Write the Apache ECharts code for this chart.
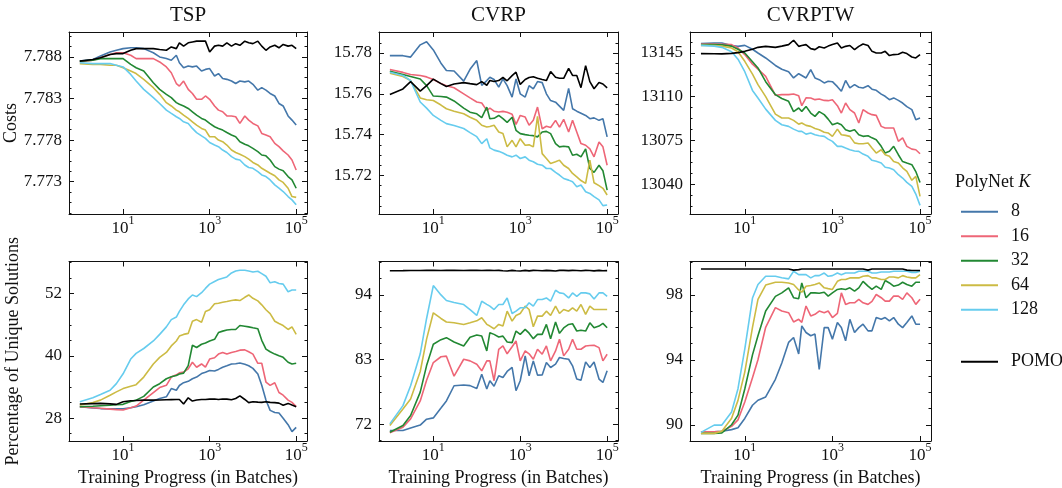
<!DOCTYPE html>
<html>
<head>
<meta charset="utf-8">
<script src="https://cdn.jsdelivr.net/npm/echarts@6/dist/echarts.min.js"></script>
<style>
  html, body { margin: 0; padding: 0; background: #fff; }
  #chart { width: 1062px; height: 488px; }
</style>
</head>
<body>
<div id="chart"></div>
<script>
// training checkpoints (batches), shared by every panel
const batches = [1, 2, 3, 5, 7, 10, 15, 20, 30, 50, 70, 100, 130, 170, 200, 250, 320, 400, 500, 650, 800,
  1000, 1300, 1600, 2000, 2500, 3200, 4000, 5000, 6500, 8000, 10000, 13000, 16000, 20000, 25000, 32000,
  40000, 50000, 65000, 80000, 100000];
const polyNetK = ['8', '16', '32', '64', '128'];
const baselineName = 'POMO';
const xTickExps = [1, 3, 5];

// tick labels
const tspCostTicks = [7.773, 7.778, 7.783, 7.788];
const cvrpCostTicks = [15.72, 15.74, 15.76, 15.78];
const cvrptwCostTicks = [13040, 13075, 13110, 13145];
const tspUniqTicks = [28, 40, 52];
const cvrpUniqTicks = [72, 83, 94];
const cvrptwUniqTicks = [90, 94, 98];

// TSP costs
const tspCost8 = [7.7875, 7.7877, 7.7881, 7.7886, 7.7888, 7.7890, 7.7891, 7.7891, 7.7890, 7.7885, 7.7880, 7.7878, 7.7876, 7.7882, 7.7873, 7.7867, 7.7869, 7.7868, 7.7869, 7.7863, 7.7865, 7.7866, 7.7857, 7.7860, 7.7854, 7.7853, 7.7851, 7.7848, 7.7851, 7.7850, 7.7851, 7.7847, 7.7840, 7.7843, 7.7840, 7.7836, 7.7833, 7.7824, 7.7821, 7.7809, 7.7804, 7.7798];
const tspCost16 = [7.7874, 7.7876, 7.7879, 7.7883, 7.7885, 7.7885, 7.7882, 7.7878, 7.7878, 7.7878, 7.7874, 7.7868, 7.7861, 7.7848, 7.7845, 7.7851, 7.7841, 7.7836, 7.7829, 7.7829, 7.7833, 7.7829, 7.7821, 7.7816, 7.7814, 7.7809, 7.7809, 7.7808, 7.7800, 7.7809, 7.7804, 7.7800, 7.7797, 7.7788, 7.7786, 7.7784, 7.7776, 7.7772, 7.7767, 7.7762, 7.7756, 7.7744];
const tspCost32 = [7.7875, 7.7876, 7.7878, 7.7878, 7.7878, 7.7878, 7.7871, 7.7867, 7.7863, 7.7849, 7.7841, 7.7835, 7.7831, 7.7825, 7.7823, 7.7821, 7.7818, 7.7814, 7.7810, 7.7806, 7.7804, 7.7800, 7.7796, 7.7794, 7.7792, 7.7789, 7.7786, 7.7784, 7.7778, 7.7775, 7.7773, 7.7770, 7.7766, 7.7762, 7.7761, 7.7756, 7.7748, 7.7745, 7.7743, 7.7736, 7.7732, 7.7722];
const tspCost64 = [7.7872, 7.7871, 7.7871, 7.7870, 7.7870, 7.7867, 7.7863, 7.7860, 7.7853, 7.7843, 7.7835, 7.7825, 7.7821, 7.7816, 7.7814, 7.7810, 7.7806, 7.7802, 7.7798, 7.7794, 7.7792, 7.7784, 7.7784, 7.7780, 7.7778, 7.7774, 7.7768, 7.7765, 7.7763, 7.7760, 7.7757, 7.7753, 7.7750, 7.7746, 7.7743, 7.7740, 7.7737, 7.7732, 7.7729, 7.7722, 7.7712, 7.7711];
const tspCost128 = [7.7873, 7.7872, 7.7872, 7.7872, 7.7870, 7.7868, 7.7859, 7.7851, 7.7841, 7.7831, 7.7824, 7.7816, 7.7812, 7.7808, 7.7806, 7.7802, 7.7800, 7.7794, 7.7789, 7.7785, 7.7782, 7.7777, 7.7774, 7.7772, 7.7768, 7.7765, 7.7760, 7.7757, 7.7756, 7.7750, 7.7747, 7.7746, 7.7742, 7.7738, 7.7736, 7.7732, 7.7726, 7.7722, 7.7718, 7.7712, 7.7708, 7.7702];
const tspCostPomo = [7.7875, 7.7877, 7.7879, 7.7883, 7.7884, 7.7884, 7.7888, 7.7890, 7.7890, 7.7890, 7.7889, 7.7888, 7.7892, 7.7890, 7.7897, 7.7893, 7.7897, 7.7898, 7.7899, 7.7899, 7.7899, 7.7886, 7.7893, 7.7894, 7.7893, 7.7897, 7.7893, 7.7896, 7.7894, 7.7899, 7.7897, 7.7896, 7.7899, 7.7893, 7.7888, 7.7892, 7.7894, 7.7891, 7.7895, 7.7893, 7.7894, 7.7890];

// CVRP costs
const cvrpCost8 = [15.7787, 15.7787, 15.7780, 15.7840, 15.7855, 15.7815, 15.7750, 15.7714, 15.7712, 15.7662, 15.7720, 15.7763, 15.7641, 15.7665, 15.7681, 15.7670, 15.7633, 15.7673, 15.7640, 15.7584, 15.7673, 15.7600, 15.7584, 15.7640, 15.7624, 15.7660, 15.7655, 15.7600, 15.7567, 15.7559, 15.7540, 15.7519, 15.7627, 15.7527, 15.7515, 15.7505, 15.7494, 15.7478, 15.7482, 15.7470, 15.7478, 15.7389];
const cvrpCost16 = [15.7719, 15.7705, 15.7695, 15.7690, 15.7683, 15.7670, 15.7650, 15.7640, 15.7630, 15.7600, 15.7580, 15.7560, 15.7555, 15.7519, 15.7530, 15.7515, 15.7511, 15.7514, 15.7510, 15.7500, 15.7450, 15.7494, 15.7486, 15.7446, 15.7470, 15.7535, 15.7429, 15.7441, 15.7435, 15.7470, 15.7437, 15.7475, 15.7413, 15.7470, 15.7413, 15.7356, 15.7348, 15.7330, 15.7291, 15.7364, 15.7340, 15.7250];
const cvrpCost32 = [15.7711, 15.7695, 15.7685, 15.7673, 15.7640, 15.7589, 15.7587, 15.7584, 15.7565, 15.7530, 15.7510, 15.7502, 15.7483, 15.7535, 15.7478, 15.7480, 15.7494, 15.7478, 15.7460, 15.7485, 15.7421, 15.7405, 15.7400, 15.7397, 15.7395, 15.7389, 15.7413, 15.7416, 15.7405, 15.7356, 15.7340, 15.7343, 15.7340, 15.7299, 15.7304, 15.7291, 15.7330, 15.7234, 15.7215, 15.7250, 15.7223, 15.7128];
const cvrpCost64 = [15.7701, 15.7685, 15.7665, 15.7580, 15.7571, 15.7567, 15.7545, 15.7527, 15.7515, 15.7502, 15.7485, 15.7470, 15.7446, 15.7437, 15.7440, 15.7446, 15.7413, 15.7405, 15.7340, 15.7372, 15.7340, 15.7380, 15.7348, 15.7350, 15.7340, 15.7489, 15.7307, 15.7283, 15.7259, 15.7267, 15.7275, 15.7250, 15.7234, 15.7210, 15.7193, 15.7175, 15.7161, 15.7275, 15.7164, 15.7150, 15.7137, 15.7104];
const cvrpCost128 = [15.7706, 15.7690, 15.7665, 15.7560, 15.7530, 15.7494, 15.7470, 15.7454, 15.7445, 15.7430, 15.7410, 15.7390, 15.7356, 15.7380, 15.7335, 15.7324, 15.7318, 15.7310, 15.7299, 15.7291, 15.7299, 15.7283, 15.7291, 15.7275, 15.7267, 15.7255, 15.7250, 15.7234, 15.7234, 15.7215, 15.7202, 15.7185, 15.7177, 15.7169, 15.7145, 15.7153, 15.7120, 15.7112, 15.7096, 15.7080, 15.7052, 15.7055];
const cvrpCostPomo = [15.7597, 15.7624, 15.7660, 15.7613, 15.7640, 15.7672, 15.7650, 15.7636, 15.7648, 15.7655, 15.7650, 15.7645, 15.7660, 15.7642, 15.7665, 15.7660, 15.7665, 15.7680, 15.7664, 15.7689, 15.7706, 15.7646, 15.7670, 15.7680, 15.7684, 15.7676, 15.7670, 15.7665, 15.7709, 15.7681, 15.7676, 15.7676, 15.7725, 15.7690, 15.7690, 15.7630, 15.7738, 15.7660, 15.7625, 15.7655, 15.7648, 15.7629];

// CVRPTW costs
const cvrptwCost8 = [13152.5, 13153, 13153, 13151, 13150.3, 13151.1, 13148, 13145, 13141, 13135, 13132, 13130, 13125, 13128.4, 13127, 13125, 13131.6, 13125, 13123.6, 13121, 13122.3, 13122, 13118, 13114.3, 13123, 13117, 13119.6, 13117.5, 13117, 13118.8, 13116, 13115.1, 13112, 13110.3, 13107.6, 13109, 13107, 13104.9, 13102, 13099.6, 13091.6, 13092.9];
const cvrptwCost16 = [13152.2, 13152.2, 13152, 13151.7, 13149, 13143.7, 13136, 13132, 13126.3, 13111.1, 13111.6, 13111.6, 13112.1, 13110.8, 13102.8, 13109, 13108.9, 13107.6, 13108.1, 13107, 13106.8, 13107.6, 13102.8, 13096.9, 13104.9, 13099.6, 13096.9, 13088.9, 13099.6, 13096.9, 13095.6, 13095, 13086.2, 13084.9, 13084.9, 13084.9, 13074.2, 13076.9, 13070.2, 13068, 13067.5, 13064.3];
const cvrptwCost32 = [13151.7, 13151.7, 13151.5, 13150.5, 13148, 13145, 13138, 13133, 13122, 13111.6, 13108.5, 13106.3, 13098, 13100.9, 13098.2, 13102.2, 13096.9, 13094.2, 13098, 13095.6, 13092, 13087.5, 13088.9, 13087.5, 13083.5, 13082.2, 13083.5, 13079.5, 13078.2, 13078.7, 13077, 13075.5, 13070.2, 13064.8, 13066.2, 13070.2, 13063.5, 13058, 13056.8, 13055.5, 13050, 13041.3];
const cvrptwCost64 = [13151.1, 13151, 13150.5, 13149, 13146, 13138.3, 13128, 13119.6, 13110, 13096, 13092.9, 13092.9, 13091, 13088, 13088.9, 13087, 13086.2, 13084.5, 13083.5, 13081.5, 13080.9, 13078.2, 13084, 13079.5, 13079, 13078.2, 13073, 13072.3, 13072.3, 13072.9, 13068.8, 13064.8, 13067.5, 13063.5, 13062.2, 13058, 13056.8, 13053, 13050.1, 13043, 13046.1, 13030.1];
const cvrptwCost128 = [13151.1, 13150.5, 13149.5, 13146, 13140, 13130, 13115, 13108.9, 13100, 13091, 13087.5, 13086.2, 13084, 13082.2, 13082.2, 13080, 13080.9, 13079.5, 13078.7, 13078.2, 13076, 13074.2, 13070.2, 13070.2, 13068.8, 13067.5, 13066.5, 13066.2, 13064, 13062.2, 13059, 13058.2, 13056.8, 13053.5, 13052.8, 13051.5, 13047.5, 13044.8, 13041.3, 13038.1, 13032, 13022.9];
const cvrptwCostPomo = [13144.5, 13144.4, 13144.3, 13144.7, 13145.3, 13146.3, 13148, 13149.5, 13150.3, 13149.5, 13150.5, 13151.7, 13155.2, 13150.3, 13151, 13151.7, 13148.5, 13147.7, 13150, 13149, 13150.5, 13151.7, 13153, 13149, 13150.3, 13151, 13147.7, 13150.3, 13152.2, 13151, 13146.3, 13145, 13145, 13146.3, 13142.9, 13143.7, 13144, 13145.5, 13144.5, 13141.8, 13141, 13143.7];

// TSP unique solutions (%)
const tspUniq8 = [30.22, 29.95, 29.85, 29.80, 29.80, 29.80, 30.00, 30.22, 30.60, 31.30, 31.80, 32.12, 33.70, 33.38, 34.30, 34.84, 35.10, 35.60, 35.92, 36.60, 36.87, 37.18, 37.10, 37.40, 37.82, 38.10, 38.45, 38.50, 38.64, 38.40, 38.10, 37.60, 36.50, 34.33, 31.50, 29.50, 29.10, 29.00, 28.00, 26.74, 25.40, 26.23];
const tspUniq16 = [30.22, 30.00, 29.90, 29.75, 29.65, 29.58, 30.03, 30.34, 31.48, 32.94, 33.89, 34.33, 35.92, 36.36, 36.74, 36.87, 37.50, 38.77, 37.82, 38.45, 37.82, 39.40, 39.65, 40.35, 40.67, 40.35, 40.67, 40.86, 41.11, 41.17, 40.79, 40.35, 38.58, 38.58, 34.97, 34.33, 34.84, 32.94, 32.43, 31.48, 31.04, 30.22];
const tspUniq32 = [30.22, 30.30, 30.40, 30.50, 30.60, 30.66, 31.20, 31.48, 32.20, 34.00, 34.65, 35.60, 36.00, 36.23, 36.50, 36.68, 38.13, 42.06, 41.62, 42.25, 42.50, 42.88, 43.20, 44.50, 44.78, 45.00, 45.10, 45.10, 45.86, 45.73, 45.60, 45.42, 45.22, 43.00, 41.30, 40.80, 40.35, 40.03, 39.72, 38.77, 38.45, 38.58];
const tspUniq64 = [30.53, 31.00, 31.48, 32.43, 33.07, 33.70, 34.15, 34.46, 35.92, 38.45, 39.72, 40.67, 41.93, 42.88, 43.83, 44.15, 44.34, 46.68, 47.00, 46.49, 48.58, 48.90, 50.04, 50.16, 50.35, 50.48, 50.67, 50.80, 50.67, 51.30, 51.75, 51.11, 50.61, 49.85, 48.90, 48.14, 46.68, 46.24, 45.86, 45.10, 45.60, 44.15];
const tspUniq128 = [31.17, 31.93, 32.56, 33.38, 34.65, 36.55, 39.40, 40.48, 41.43, 42.88, 44.15, 45.60, 47.00, 47.50, 48.58, 49.85, 50.99, 51.75, 51.43, 52.19, 53.01, 53.84, 54.34, 54.72, 54.98, 55.23, 55.99, 56.37, 56.50, 56.50, 56.37, 56.18, 56.31, 55.86, 55.36, 54.09, 54.28, 53.96, 53.84, 52.38, 52.70, 52.70];
const tspUniqPomo = [30.72, 30.80, 30.85, 30.75, 30.66, 31.17, 31.36, 31.40, 31.48, 31.48, 31.50, 31.55, 31.58, 31.61, 31.61, 30.72, 31.93, 31.30, 31.50, 31.61, 31.61, 31.67, 31.70, 31.61, 31.70, 31.67, 31.55, 31.80, 32.31, 31.60, 31.00, 31.17, 31.10, 31.05, 31.17, 31.05, 31.00, 30.90, 30.50, 30.85, 30.53, 30.22];

// CVRP unique solutions (%)
const cvrpUniq8 = [70.99, 70.99, 71.40, 71.90, 72.90, 73.12, 74.80, 76.00, 78.58, 78.70, 78.60, 78.10, 80.55, 78.02, 79.43, 78.50, 80.27, 79.99, 81.00, 81.68, 77.74, 79.43, 83.65, 80.27, 82.80, 80.38, 80.40, 82.52, 81.68, 82.24, 83.37, 83.20, 83.08, 81.96, 79.71, 79.50, 82.63, 81.68, 82.60, 79.71, 79.14, 81.11];
const cvrpUniq16 = [70.59, 71.55, 72.95, 76.00, 79.50, 82.52, 83.50, 83.60, 80.20, 83.08, 82.80, 82.24, 81.11, 82.80, 82.80, 79.43, 84.77, 85.33, 84.00, 85.20, 86.18, 82.80, 84.49, 84.00, 83.08, 84.77, 83.93, 85.33, 82.80, 84.49, 86.46, 83.65, 84.77, 86.46, 84.77, 84.77, 85.33, 85.40, 85.45, 85.05, 82.80, 83.93];
const cvrpUniq32 = [70.70, 71.83, 73.52, 77.50, 82.00, 85.62, 86.40, 86.74, 86.00, 85.33, 86.80, 87.19, 87.02, 84.49, 87.59, 87.30, 86.85, 87.00, 86.00, 85.90, 87.87, 87.30, 88.15, 87.50, 86.57, 87.30, 87.30, 88.99, 86.57, 89.39, 87.47, 88.40, 88.99, 89.10, 87.87, 88.00, 87.87, 89.27, 88.43, 88.71, 89.16, 88.43];
const cvrpUniq64 = [71.83, 74.64, 76.33, 81.00, 86.50, 90.96, 90.00, 89.40, 89.27, 88.99, 89.27, 89.60, 90.12, 89.00, 88.71, 88.26, 88.99, 88.71, 91.24, 89.55, 90.51, 90.85, 92.09, 91.52, 88.60, 90.40, 90.40, 91.24, 90.51, 92.09, 90.85, 91.52, 91.24, 91.81, 91.24, 92.37, 90.68, 92.09, 91.52, 91.52, 91.52, 91.52];
const cvrpUniq128 = [72.11, 75.21, 78.58, 84.00, 90.00, 95.58, 94.00, 93.04, 92.70, 92.37, 91.50, 90.51, 92.93, 92.40, 92.09, 91.52, 92.37, 92.37, 93.49, 90.85, 91.24, 91.81, 91.81, 92.65, 92.09, 93.21, 93.21, 93.49, 92.93, 94.79, 94.34, 94.23, 93.49, 94.34, 93.77, 94.34, 94.34, 94.17, 93.32, 94.34, 94.34, 93.77];
const cvrpUniqPomo = [98.10, 98.12, 98.15, 98.15, 98.16, 98.16, 98.15, 98.16, 98.16, 98.15, 98.16, 98.16, 98.15, 98.16, 98.16, 98.15, 98.16, 98.10, 98.05, 98.16, 98.10, 98.05, 98.16, 98.08, 98.16, 98.14, 98.10, 98.16, 98.12, 98.05, 98.16, 98.16, 98.12, 98.16, 98.14, 98.10, 98.16, 98.14, 98.08, 98.16, 98.10, 98.12];

// CVRPTW unique solutions (%)
const cvrptwUniq8 = [89.57, 89.57, 89.60, 89.70, 89.82, 90.39, 91.20, 91.51, 91.71, 92.80, 93.80, 95.07, 95.37, 94.36, 96.09, 95.68, 95.48, 95.58, 93.40, 95.98, 95.98, 95.27, 96.29, 95.98, 95.17, 96.49, 95.68, 95.98, 96.19, 95.78, 95.78, 96.60, 96.49, 96.60, 96.39, 96.60, 96.19, 95.98, 96.29, 96.70, 96.19, 96.19];
const cvrptwUniq16 = [89.57, 89.57, 89.60, 89.90, 90.30, 91.40, 92.90, 94.00, 96.00, 97.21, 97.00, 96.90, 96.33, 96.49, 96.30, 97.31, 96.70, 96.80, 97.00, 96.90, 97.00, 96.60, 96.86, 98.12, 97.41, 97.51, 97.51, 97.72, 97.51, 97.41, 97.60, 98.02, 97.82, 97.61, 97.61, 97.92, 97.92, 97.72, 98.12, 97.82, 97.41, 97.72];
const cvrptwUniq32 = [89.47, 89.47, 89.50, 90.00, 90.59, 92.20, 94.30, 95.48, 97.00, 97.90, 98.12, 98.43, 97.82, 97.76, 98.73, 97.82, 98.12, 98.12, 98.10, 98.16, 97.92, 98.12, 98.33, 98.37, 98.33, 98.43, 98.22, 98.43, 98.83, 98.53, 98.33, 98.53, 98.33, 98.88, 98.73, 98.53, 98.60, 98.77, 98.63, 98.53, 98.77, 98.77];
const cvrptwUniq64 = [89.47, 89.47, 89.60, 90.40, 91.50, 93.24, 96.00, 97.72, 98.60, 98.77, 98.77, 98.73, 98.63, 98.30, 98.16, 98.53, 98.57, 98.63, 98.73, 98.43, 98.38, 98.33, 98.83, 98.94, 98.94, 99.04, 99.04, 99.04, 99.14, 99.18, 99.04, 99.04, 98.94, 98.94, 99.10, 99.10, 99.04, 99.18, 99.10, 99.04, 99.04, 99.24];
const cvrptwUniq128 = [89.53, 89.98, 89.98, 90.79, 92.22, 94.66, 97.80, 98.63, 99.14, 99.14, 99.05, 98.98, 99.45, 99.24, 99.24, 99.24, 99.04, 99.18, 99.18, 99.34, 99.14, 99.18, 99.34, 99.24, 99.34, 99.34, 99.34, 99.45, 99.45, 99.45, 99.34, 99.34, 99.40, 99.40, 99.40, 99.45, 99.45, 99.45, 99.45, 99.38, 99.38, 99.45];
const cvrptwUniqPomo = [99.59, 99.59, 99.59, 99.59, 99.59, 99.59, 99.59, 99.59, 99.59, 99.59, 99.59, 99.59, 99.52, 99.55, 99.59, 99.59, 99.59, 99.59, 99.59, 99.59, 99.59, 99.59, 99.59, 99.59, 99.59, 99.59, 99.59, 99.59, 99.59, 99.52, 99.59, 99.59, 99.59, 99.59, 99.59, 99.59, 99.59, 99.59, 99.52, 99.50, 99.50, 99.50];

const FONT = "'Liberation Serif', 'Times New Roman', serif";
const INK = '#111111';
const colors = ['#4477AA', '#EE6677', '#228833', '#CCBB44', '#66CCEE', '#000000'];
const seriesNames = polyNetK.concat([baselineName]);

const panels = [
  { box: { left: 69, top: 32, width: 238, height: 182 }, title: 'TSP', yName: 'Costs',
    yMin: 7.7691, yMax: 7.7910, ticks: tspCostTicks, dec: 3,
    lines: [tspCost8, tspCost16, tspCost32, tspCost64, tspCost128, tspCostPomo] },
  { box: { left: 379, top: 32, width: 239, height: 182 }, title: 'CVRP',
    yMin: 15.7011, yMax: 15.7903, ticks: cvrpCostTicks, dec: 2,
    lines: [cvrpCost8, cvrpCost16, cvrpCost32, cvrpCost64, cvrpCost128, cvrpCostPomo] },
  { box: { left: 690, top: 32, width: 241, height: 182 }, title: 'CVRPTW',
    yMin: 13016, yMax: 13161.8, ticks: cvrptwCostTicks, dec: 0,
    lines: [cvrptwCost8, cvrptwCost16, cvrptwCost32, cvrptwCost64, cvrptwCost128, cvrptwCostPomo] },
  { box: { left: 69, top: 261.5, width: 238, height: 181.5 }, yName: 'Percentage of Unique Solutions',
    yMin: 23.6, yMax: 58.2, ticks: tspUniqTicks, dec: 0, xName: true,
    lines: [tspUniq8, tspUniq16, tspUniq32, tspUniq64, tspUniq128, tspUniqPomo] },
  { box: { left: 379, top: 261.5, width: 239, height: 181.5 },
    yMin: 69.2, yMax: 99.67, ticks: cvrpUniqTicks, dec: 0, xName: true,
    lines: [cvrpUniq8, cvrpUniq16, cvrpUniq32, cvrpUniq64, cvrpUniq128, cvrpUniqPomo] },
  { box: { left: 690, top: 261.5, width: 241, height: 181.5 },
    yMin: 89.0, yMax: 100.05, ticks: cvrptwUniqTicks, dec: 0, xName: true,
    lines: [cvrptwUniq8, cvrptwUniq16, cvrptwUniq32, cvrptwUniq64, cvrptwUniq128, cvrptwUniqPomo] },
];

// minor ticks: 4 divisions between majors, like matplotlib's AutoMinorLocator
const minorTicks = (ticks, min, max) => {
  const step = (ticks[1] - ticks[0]) / 4;
  const out = [];
  const kMin = Math.ceil((min - ticks[0]) / step - 1e-9);
  const kMax = Math.floor((max - ticks[0]) / step + 1e-9);
  for (let k = kMin; k <= kMax; k++) {
    if (k % 4 !== 0) out.push(ticks[0] + k * step);
  }
  return out;
};

const lineStyle = { color: INK, width: 1 };
const grid = [], xAxis = [], yAxis = [], series = [], graphic = [];

panels.forEach((p, g) => {
  grid.push(p.box);

  const xBase = {
    type: 'value', gridIndex: g, min: -0.25, max: 5.25,
    splitLine: { show: false },
    axisLine: { onZero: false, lineStyle: lineStyle },
    axisTick: { inside: true, length: 5, customValues: xTickExps, lineStyle: lineStyle },
  };
  xAxis.push(Object.assign({}, xBase, {
    position: 'bottom',
    axisLabel: {
      customValues: xTickExps, margin: 1,
      formatter: (v) => '{b|10}{s|' + Math.round(v) + '}',
      rich: {
        b: { fontFamily: FONT, fontSize: 17, color: INK, lineHeight: 22, verticalAlign: 'bottom' },
        s: { fontFamily: FONT, fontSize: 12, color: INK, lineHeight: 12, verticalAlign: 'top' },
      },
    },
    name: p.xName ? 'Training Progress (in Batches)' : '',
    nameLocation: 'middle', nameGap: 28,
    nameTextStyle: { fontFamily: FONT, fontSize: 18, color: INK },
  }));
  xAxis.push(Object.assign({}, xBase, { position: 'top', axisLabel: { show: false } }));

  const minors = minorTicks(p.ticks, p.yMin, p.yMax);
  const yBase = { type: 'value', gridIndex: g, min: p.yMin, max: p.yMax, splitLine: { show: false } };
  const major = { inside: true, length: 5, customValues: p.ticks, lineStyle: lineStyle };
  const minor = { inside: true, length: 2.5, customValues: minors, lineStyle: lineStyle };
  yAxis.push(Object.assign({}, yBase, {
    position: 'left',
    axisLine: { show: true, onZero: false, lineStyle: lineStyle },
    axisTick: major,
    axisLabel: {
      customValues: p.ticks, margin: 7,
      formatter: (v) => v.toFixed(p.dec),
      fontFamily: FONT, fontSize: 17, color: INK,
    },
    name: p.yName || '', nameLocation: 'middle', nameGap: 47,
    nameTextStyle: { fontFamily: FONT, fontSize: 18, color: INK },
  }));
  yAxis.push(Object.assign({}, yBase, {
    position: 'left', axisLine: { show: false, onZero: false }, axisTick: minor, axisLabel: { show: false },
  }));
  yAxis.push(Object.assign({}, yBase, {
    position: 'right', axisLine: { show: true, onZero: false, lineStyle: lineStyle },
    axisTick: major, axisLabel: { show: false },
  }));
  yAxis.push(Object.assign({}, yBase, {
    position: 'right', axisLine: { show: false, onZero: false }, axisTick: minor, axisLabel: { show: false },
  }));

  p.lines.forEach((vals, k) => {
    series.push({
      type: 'line', name: seriesNames[k],
      xAxisIndex: 2 * g, yAxisIndex: 4 * g,
      data: batches.map((b, i) => [Math.log10(b), vals[i]]),
      symbol: 'none', silent: true,
      lineStyle: { width: 1.6, color: colors[k] },
      itemStyle: { color: colors[k] },
      z: k === 5 ? 3 : 2,
    });
  });

  if (p.title) {
    graphic.push({
      type: 'text', x: p.box.left + p.box.width / 2, y: 15.5,
      style: {
        text: p.title, fill: INK, font: '21px ' + FONT,
        align: 'center', verticalAlign: 'middle', textAlign: 'center', textVerticalAlign: 'middle',
      },
    });
  }
});

graphic.push({
  type: 'text', x: 955, y: 182,
  style: {
    text: 'PolyNet {i|K}', fill: INK, font: '18px ' + FONT,
    verticalAlign: 'middle', textVerticalAlign: 'middle',
    rich: { i: { fontStyle: 'italic', fontFamily: FONT, fontSize: 18, fill: INK, color: INK } },
  },
});

const legendBase = {
  orient: 'vertical', left: 956, icon: 'rect', itemWidth: 37, itemHeight: 2, itemGap: 0,
  selectedMode: false,
  textStyle: { fontFamily: FONT, fontSize: 18, color: INK, lineHeight: 24.5, padding: [0, 0, 0, 8] },
};

const chart = echarts.init(document.getElementById('chart'));
chart.setOption({
  animation: false,
  backgroundColor: '#ffffff',
  grid: grid,
  xAxis: xAxis,
  yAxis: yAxis,
  series: series,
  graphic: graphic,
  legend: [
    Object.assign({}, legendBase, { top: 194.5, data: polyNetK }),
    Object.assign({}, legendBase, { top: 344.5, data: [baselineName] }),
  ],
});
</script>
</body>
</html>
